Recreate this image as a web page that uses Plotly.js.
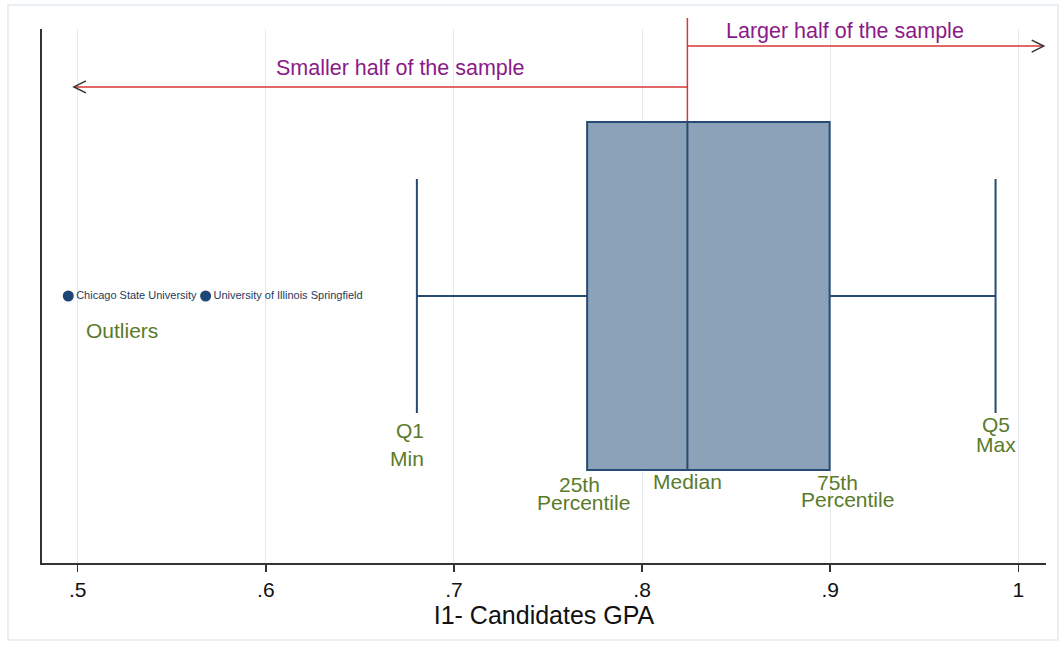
<!DOCTYPE html>
<html>
<head>
<meta charset="utf-8">
<script src="https://cdn.plot.ly/plotly-3.0.1.min.js"></script>
<style>html,body{margin:0;padding:0;background:#fff;}#chart{width:1059px;height:645px;}</style>
</head>
<body>
<div id="chart"></div>
<script>
// ---- data ----
var boxLabel = ["GPA"];
var q1 = [0.7708];
var median = [0.8241];
var q3 = [0.8997];
var lowerWhisker = [0.6803];
var upperWhisker = [0.9879];
var outlierValues = [0.4950, 0.5680];
var outlierNames = ["Chicago State University", "University of Illinois Springfield"];
var tickValues = [0.5, 0.6, 0.7, 0.8, 0.9, 1.0];
var tickLabels = [".5", ".6", ".7", ".8", ".9", "1"];
var xTitle = "I1- Candidates GPA";

var FONT = "Liberation Sans, Arial, sans-serif";
var GREEN = "#5b7b2b";
var PURPLE = "#8b1a89";
var RED = "#d93636";

var traces = [
  {
    type: "box", orientation: "h", name: boxLabel[0],
    y: [0], q1: q1, median: median, q3: q3,
    lowerfence: lowerWhisker, upperfence: upperWhisker,
    width: 1.304, whiskerwidth: 0.672,
    fillcolor: "#8ba2b9", line: {color: "#264c73", width: 2},
    boxpoints: false, hoverinfo: "x", showlegend: false
  },
  {
    type: "scatter", mode: "markers+text",
    x: outlierValues, y: outlierValues.map(function(){return 0;}),
    text: outlierNames, textposition: "middle right",
    textfont: {family: FONT, size: 11, color: "#1f3a5a"},
    marker: {color: "#1b4675", size: 11},
    showlegend: false, hoverinfo: "x+text"
  }
];

function lbl(text, x, y, color, size, xanchor) {
  return {text: text, x: x, y: y, xref: "x", yref: "y", showarrow: false,
    xanchor: xanchor || "center", yanchor: "middle",
    font: {family: FONT, size: size, color: color}};
}

var GS = 21;   // green label size
var PS = 21.5; // purple label size
var annotations = [
  lbl("Larger half of the sample", 0.908, 0.9925, PURPLE, PS),
  lbl("Smaller half of the sample", 0.6714, 0.854, PURPLE, PS),
  lbl("Outliers", 0.5235, -0.131, GREEN, GS),
  lbl("Q1", 0.6852, -0.504, GREEN, GS, "right"),
  lbl("Min", 0.6852, -0.608, GREEN, GS, "right"),
  lbl("25th", 0.7666, -0.706, GREEN, GS),
  lbl("Percentile", 0.7687, -0.775, GREEN, GS),
  lbl("Median", median[0], -0.6955, GREEN, GS),
  lbl("75th", 0.9039, -0.698, GREEN, GS),
  lbl("Percentile", 0.9093, -0.762, GREEN, GS),
  lbl("Q5", upperWhisker[0], -0.483, GREEN, GS),
  lbl("Max", upperWhisker[0], -0.558, GREEN, GS)
];

var leftTip = 0.498, rightTip = 1.0135;
var yLarger = 0.936, ySmaller = 0.783;

var shapes = [
  // outer faint frame
  {type: "rect", xref: "paper", yref: "paper", x0: -0.0339, x1: 1.012, y0: -0.1442, y1: 1.0449,
   line: {color: "#e3eaf0", width: 1.5}, layer: "below"},
  // vertical red line at median
  {type: "line", xref: "x", yref: "paper", x0: median[0], x1: median[0], y0: 0.8275, y1: 1.0206,
   line: {color: RED, width: 1.5}},
  // larger half arrow line
  {type: "line", xref: "x", yref: "y", x0: median[0], x1: rightTip, y0: yLarger, y1: yLarger,
   line: {color: RED, width: 1.5}},
  // smaller half arrow line
  {type: "line", xref: "x", yref: "y", x0: median[0], x1: leftTip, y0: ySmaller, y1: ySmaller,
   line: {color: RED, width: 1.5}},
  // chevrons
  {type: "path", xref: "x", yref: "y", xsizemode: "pixel", ysizemode: "pixel",
   xanchor: leftTip, yanchor: ySmaller, path: "M12,6L0,0L12,-6",
   line: {color: "#333333", width: 1.5}},
  {type: "path", xref: "x", yref: "y", xsizemode: "pixel", ysizemode: "pixel",
   xanchor: rightTip, yanchor: yLarger, path: "M-12,6L0,0L-12,-6",
   line: {color: "#333333", width: 1.5}}
];

var layout = {
  width: 1059, height: 645,
  margin: {l: 42, r: 13, t: 29, b: 82, pad: 0},
  paper_bgcolor: "#ffffff", plot_bgcolor: "#ffffff",
  font: {family: FONT, color: "#111111"},
  showlegend: false,
  xaxis: {
    range: [0.48103, 1.01472], tickmode: "array", tickvals: tickValues, ticktext: tickLabels,
    ticks: "outside", ticklen: 7, tickwidth: 1.5, tickcolor: "#333333",
    tickfont: {family: FONT, size: 21, color: "#111111"},
    showgrid: true, gridcolor: "#e5eaee", gridwidth: 1,
    zeroline: false, showline: true, linecolor: "#333333", linewidth: 2,
    title: {text: xTitle, font: {family: FONT, size: 25, color: "#111111"}, standoff: 0}
  },
  yaxis: {
    range: [-1, 1], showticklabels: false, ticks: "", showgrid: false, zeroline: false,
    showline: true, linecolor: "#333333", linewidth: 2, fixedrange: true
  },
  shapes: shapes,
  annotations: annotations
};

Plotly.newPlot("chart", traces, layout, {displayModeBar: false, staticPlot: true});
</script>
</body>
</html>
